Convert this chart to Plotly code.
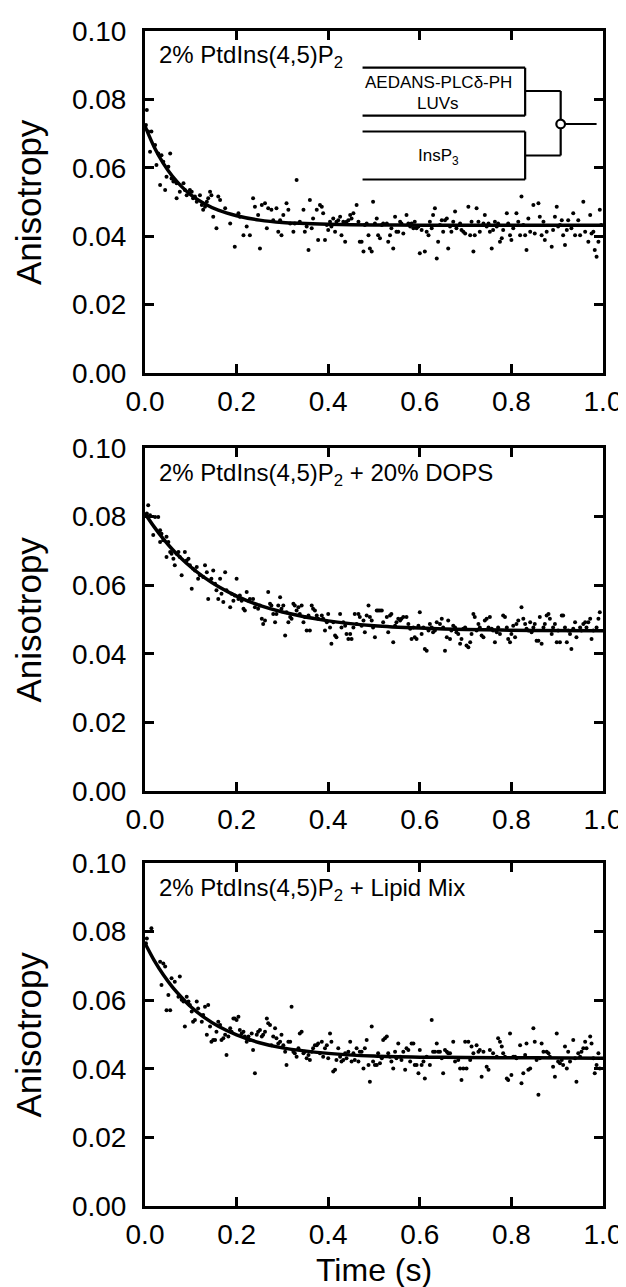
import plotly.graph_objects as go

# ---------------- data ----------------
panel_labels = [
    "2% PtdIns(4,5)P<sub>2</sub>",
    "2% PtdIns(4,5)P<sub>2</sub> + 20% DOPS",
    "2% PtdIns(4,5)P<sub>2</sub> + Lipid Mix",
]
x_tick_vals = [0.0, 0.2, 0.4, 0.6, 0.8, 1.0]
y_tick_vals = [0.00, 0.02, 0.04, 0.06, 0.08, 0.10]

# Panel 1 : 2% PtdIns(4,5)P2  (time s, anisotropy)
panel1_points = [
    (0.004, 0.0769), (0.002, 0.0725), (0.007, 0.0706), (0.014, 0.0706), (0.011, 0.0647), (0.022, 0.0667),
    (0.025, 0.0608), (0.029, 0.0642), (0.036, 0.0637), (0.040, 0.0618), (0.055, 0.0642), (0.051, 0.0603),
    (0.047, 0.0574), (0.033, 0.0550), (0.044, 0.0535), (0.058, 0.0569), (0.062, 0.0560), (0.069, 0.0555),
    (0.069, 0.0511), (0.076, 0.0530), (0.084, 0.0555), (0.087, 0.0535), (0.091, 0.0520), (0.098, 0.0535),
    (0.102, 0.0530), (0.105, 0.0511), (0.109, 0.0516), (0.113, 0.0501), (0.120, 0.0520), (0.124, 0.0491),
    (0.131, 0.0486), (0.127, 0.0477), (0.135, 0.0501), (0.138, 0.0511), (0.142, 0.0530), (0.145, 0.0520),
    (0.149, 0.0457), (0.156, 0.0423), (0.160, 0.0516), (0.164, 0.0506), (0.175, 0.0482), (0.186, 0.0437),
    (0.196, 0.0369), (0.204, 0.0467), (0.207, 0.0457), (0.215, 0.0403), (0.222, 0.0428), (0.229, 0.0403),
    (0.236, 0.0511), (0.240, 0.0486), (0.247, 0.0462), (0.251, 0.0364), (0.255, 0.0491), (0.262, 0.0496),
    (0.266, 0.0423), (0.269, 0.0482), (0.276, 0.0477), (0.280, 0.0447), (0.287, 0.0482), (0.291, 0.0413),
    (0.295, 0.0447), (0.298, 0.0403), (0.302, 0.0462), (0.309, 0.0496), (0.313, 0.0477), (0.317, 0.0437),
    (0.324, 0.0413), (0.327, 0.0437), (0.331, 0.0564), (0.338, 0.0442), (0.346, 0.0477), (0.349, 0.0413),
    (0.353, 0.0428), (0.357, 0.0360), (0.360, 0.0506), (0.364, 0.0423), (0.367, 0.0452), (0.375, 0.0477),
    (0.378, 0.0389), (0.382, 0.0491), (0.386, 0.0486), (0.389, 0.0467), (0.393, 0.0389), (0.397, 0.0433),
    (0.400, 0.0418), (0.404, 0.0442), (0.407, 0.0428), (0.411, 0.0452), (0.415, 0.0413), (0.418, 0.0442),
    (0.422, 0.0447), (0.426, 0.0457), (0.429, 0.0403), (0.433, 0.0442), (0.437, 0.0384), (0.440, 0.0442),
    (0.444, 0.0447), (0.448, 0.0462), (0.451, 0.0452), (0.455, 0.0467), (0.462, 0.0491), (0.466, 0.0442),
    (0.469, 0.0384), (0.473, 0.0384), (0.477, 0.0355), (0.480, 0.0433), (0.484, 0.0437), (0.488, 0.0403),
    (0.491, 0.0364), (0.495, 0.0355), (0.498, 0.0501), (0.502, 0.0437), (0.506, 0.0452), (0.509, 0.0403),
    (0.513, 0.0394), (0.517, 0.0433), (0.520, 0.0437), (0.528, 0.0437), (0.531, 0.0384), (0.535, 0.0403),
    (0.538, 0.0423), (0.542, 0.0364), (0.546, 0.0457), (0.549, 0.0413), (0.553, 0.0413), (0.557, 0.0442),
    (0.560, 0.0437), (0.564, 0.0408), (0.571, 0.0462), (0.575, 0.0437), (0.579, 0.0428), (0.582, 0.0437),
    (0.586, 0.0423), (0.589, 0.0442), (0.593, 0.0423), (0.597, 0.0428), (0.600, 0.0350), (0.604, 0.0418),
    (0.611, 0.0355), (0.615, 0.0413), (0.619, 0.0403), (0.622, 0.0442), (0.626, 0.0423), (0.629, 0.0462),
    (0.633, 0.0482), (0.637, 0.0335), (0.640, 0.0384), (0.644, 0.0433), (0.648, 0.0447), (0.651, 0.0413),
    (0.655, 0.0447), (0.659, 0.0452), (0.662, 0.0364), (0.666, 0.0428), (0.669, 0.0413), (0.673, 0.0442),
    (0.677, 0.0472), (0.680, 0.0423), (0.688, 0.0437), (0.691, 0.0418), (0.695, 0.0413), (0.699, 0.0408),
    (0.706, 0.0486), (0.710, 0.0403), (0.713, 0.0442), (0.717, 0.0355), (0.720, 0.0403), (0.724, 0.0482),
    (0.728, 0.0442), (0.731, 0.0413), (0.739, 0.0437), (0.742, 0.0462), (0.746, 0.0428), (0.750, 0.0437),
    (0.753, 0.0413), (0.757, 0.0364), (0.760, 0.0418), (0.764, 0.0442), (0.768, 0.0428), (0.771, 0.0437),
    (0.775, 0.0384), (0.779, 0.0394), (0.782, 0.0418), (0.790, 0.0467), (0.793, 0.0437), (0.797, 0.0403),
    (0.800, 0.0389), (0.804, 0.0423), (0.811, 0.0467), (0.815, 0.0442), (0.819, 0.0403), (0.822, 0.0516),
    (0.826, 0.0433), (0.830, 0.0403), (0.833, 0.0360), (0.837, 0.0452), (0.841, 0.0413), (0.848, 0.0491),
    (0.851, 0.0408), (0.859, 0.0496), (0.862, 0.0457), (0.866, 0.0403), (0.870, 0.0442), (0.873, 0.0389),
    (0.877, 0.0413), (0.888, 0.0369), (0.891, 0.0418), (0.895, 0.0457), (0.899, 0.0486), (0.902, 0.0428),
    (0.906, 0.0433), (0.910, 0.0447), (0.913, 0.0403), (0.917, 0.0374), (0.921, 0.0418), (0.924, 0.0447),
    (0.931, 0.0423), (0.935, 0.0467), (0.939, 0.0403), (0.946, 0.0447), (0.950, 0.0403), (0.957, 0.0501),
    (0.961, 0.0413), (0.968, 0.0384), (0.972, 0.0462), (0.975, 0.0408), (0.979, 0.0413), (0.982, 0.0360),
    (0.986, 0.0340), (0.990, 0.0384), (0.993, 0.0477), (0.996, 0.0433),
]

# Panel 2 : 2% PtdIns(4,5)P2 + 20% DOPS
panel2_points = [
    (0.007, 0.0833), (0.004, 0.0809), (0.011, 0.0804), (0.022, 0.0799), (0.029, 0.0799), (0.018, 0.0746),
    (0.033, 0.0760), (0.036, 0.0750), (0.040, 0.0731), (0.033, 0.0726), (0.047, 0.0741), (0.051, 0.0726),
    (0.055, 0.0697), (0.058, 0.0692), (0.047, 0.0682), (0.062, 0.0677), (0.065, 0.0658), (0.069, 0.0692),
    (0.073, 0.0697), (0.076, 0.0682), (0.080, 0.0629), (0.087, 0.0697), (0.091, 0.0672), (0.095, 0.0677),
    (0.098, 0.0658), (0.102, 0.0590), (0.105, 0.0648), (0.109, 0.0643), (0.113, 0.0653), (0.116, 0.0619),
    (0.120, 0.0629), (0.127, 0.0624), (0.131, 0.0658), (0.135, 0.0638), (0.138, 0.0560), (0.142, 0.0614),
    (0.145, 0.0619), (0.149, 0.0643), (0.153, 0.0604), (0.156, 0.0585), (0.160, 0.0560), (0.164, 0.0619),
    (0.167, 0.0575), (0.171, 0.0551), (0.175, 0.0638), (0.178, 0.0585), (0.186, 0.0536), (0.189, 0.0575),
    (0.193, 0.0555), (0.196, 0.0570), (0.200, 0.0619), (0.204, 0.0560), (0.207, 0.0570), (0.211, 0.0555),
    (0.215, 0.0531), (0.218, 0.0526), (0.222, 0.0580), (0.226, 0.0555), (0.229, 0.0560), (0.236, 0.0560),
    (0.240, 0.0536), (0.247, 0.0531), (0.251, 0.0541), (0.255, 0.0502), (0.258, 0.0487), (0.262, 0.0497),
    (0.269, 0.0580), (0.273, 0.0546), (0.276, 0.0541), (0.280, 0.0516), (0.284, 0.0492), (0.287, 0.0516),
    (0.291, 0.0541), (0.295, 0.0565), (0.298, 0.0531), (0.302, 0.0541), (0.306, 0.0453), (0.309, 0.0521),
    (0.313, 0.0492), (0.317, 0.0507), (0.320, 0.0502), (0.324, 0.0546), (0.327, 0.0541), (0.331, 0.0526),
    (0.335, 0.0536), (0.338, 0.0516), (0.342, 0.0541), (0.346, 0.0492), (0.349, 0.0507), (0.353, 0.0468),
    (0.357, 0.0512), (0.360, 0.0468), (0.364, 0.0541), (0.367, 0.0531), (0.371, 0.0526), (0.375, 0.0512),
    (0.378, 0.0502), (0.386, 0.0512), (0.389, 0.0502), (0.393, 0.0468), (0.397, 0.0492), (0.400, 0.0516),
    (0.404, 0.0477), (0.407, 0.0429), (0.411, 0.0492), (0.415, 0.0453), (0.418, 0.0448), (0.426, 0.0516),
    (0.429, 0.0477), (0.433, 0.0492), (0.437, 0.0482), (0.440, 0.0458), (0.444, 0.0443), (0.448, 0.0458),
    (0.451, 0.0443), (0.455, 0.0477), (0.458, 0.0516), (0.462, 0.0487), (0.466, 0.0516), (0.469, 0.0507),
    (0.473, 0.0482), (0.477, 0.0497), (0.480, 0.0463), (0.484, 0.0512), (0.488, 0.0541), (0.491, 0.0507),
    (0.495, 0.0497), (0.498, 0.0477), (0.502, 0.0448), (0.506, 0.0526), (0.509, 0.0526), (0.513, 0.0526),
    (0.517, 0.0526), (0.520, 0.0492), (0.528, 0.0507), (0.531, 0.0463), (0.535, 0.0512), (0.538, 0.0516),
    (0.542, 0.0434), (0.546, 0.0482), (0.549, 0.0492), (0.553, 0.0502), (0.557, 0.0497), (0.560, 0.0502),
    (0.564, 0.0507), (0.571, 0.0507), (0.575, 0.0487), (0.579, 0.0473), (0.582, 0.0443), (0.586, 0.0477),
    (0.589, 0.0448), (0.593, 0.0443), (0.597, 0.0482), (0.600, 0.0521), (0.604, 0.0458), (0.608, 0.0477),
    (0.611, 0.0414), (0.615, 0.0409), (0.619, 0.0468), (0.622, 0.0487), (0.626, 0.0477), (0.629, 0.0463),
    (0.633, 0.0468), (0.637, 0.0492), (0.644, 0.0487), (0.648, 0.0502), (0.651, 0.0477), (0.655, 0.0409),
    (0.659, 0.0448), (0.662, 0.0497), (0.666, 0.0443), (0.669, 0.0468), (0.673, 0.0482), (0.677, 0.0477),
    (0.680, 0.0463), (0.684, 0.0458), (0.688, 0.0429), (0.691, 0.0443), (0.695, 0.0473), (0.699, 0.0477),
    (0.702, 0.0424), (0.706, 0.0419), (0.710, 0.0434), (0.713, 0.0458), (0.717, 0.0516), (0.720, 0.0507),
    (0.724, 0.0468), (0.728, 0.0487), (0.731, 0.0477), (0.735, 0.0453), (0.739, 0.0448), (0.742, 0.0497),
    (0.746, 0.0502), (0.750, 0.0477), (0.753, 0.0507), (0.757, 0.0473), (0.760, 0.0468), (0.764, 0.0434),
    (0.768, 0.0463), (0.771, 0.0477), (0.775, 0.0458), (0.782, 0.0512), (0.786, 0.0507), (0.790, 0.0477),
    (0.793, 0.0443), (0.797, 0.0434), (0.800, 0.0458), (0.804, 0.0482), (0.808, 0.0448), (0.811, 0.0487),
    (0.815, 0.0497), (0.822, 0.0536), (0.826, 0.0502), (0.830, 0.0487), (0.833, 0.0473), (0.837, 0.0468),
    (0.841, 0.0492), (0.844, 0.0463), (0.848, 0.0477), (0.851, 0.0487), (0.855, 0.0438), (0.859, 0.0438),
    (0.862, 0.0507), (0.866, 0.0429), (0.870, 0.0477), (0.873, 0.0487), (0.877, 0.0512), (0.881, 0.0516),
    (0.884, 0.0502), (0.888, 0.0458), (0.891, 0.0477), (0.895, 0.0487), (0.899, 0.0434), (0.902, 0.0468),
    (0.906, 0.0434), (0.910, 0.0512), (0.913, 0.0512), (0.917, 0.0477), (0.921, 0.0434), (0.924, 0.0468),
    (0.928, 0.0458), (0.931, 0.0414), (0.935, 0.0473), (0.939, 0.0492), (0.942, 0.0448), (0.950, 0.0477),
    (0.953, 0.0468), (0.957, 0.0487), (0.961, 0.0492), (0.964, 0.0477), (0.968, 0.0492), (0.972, 0.0502),
    (0.975, 0.0443), (0.979, 0.0468), (0.986, 0.0477), (0.990, 0.0502), (0.993, 0.0521),
]

# Panel 3 : 2% PtdIns(4,5)P2 + Lipid Mix
panel3_points = [
    (0.004, 0.0780), (0.014, 0.0810), (0.002, 0.0766), (0.033, 0.0712), (0.040, 0.0707), (0.044, 0.0698),
    (0.036, 0.0644), (0.051, 0.0615), (0.055, 0.0571), (0.047, 0.0571), (0.058, 0.0664), (0.065, 0.0654),
    (0.076, 0.0669), (0.073, 0.0610), (0.080, 0.0601), (0.084, 0.0596), (0.091, 0.0610), (0.087, 0.0523),
    (0.095, 0.0596), (0.098, 0.0586), (0.102, 0.0567), (0.105, 0.0537), (0.109, 0.0542), (0.113, 0.0596),
    (0.116, 0.0576), (0.124, 0.0537), (0.127, 0.0557), (0.131, 0.0581), (0.138, 0.0586), (0.135, 0.0499),
    (0.142, 0.0523), (0.145, 0.0479), (0.149, 0.0484), (0.153, 0.0484), (0.156, 0.0508), (0.160, 0.0537),
    (0.164, 0.0528), (0.167, 0.0484), (0.171, 0.0489), (0.175, 0.0499), (0.178, 0.0440), (0.182, 0.0494),
    (0.186, 0.0518), (0.189, 0.0508), (0.193, 0.0547), (0.196, 0.0547), (0.200, 0.0542), (0.204, 0.0552),
    (0.207, 0.0513), (0.211, 0.0503), (0.215, 0.0508), (0.218, 0.0494), (0.222, 0.0479), (0.226, 0.0494),
    (0.229, 0.0484), (0.233, 0.0503), (0.236, 0.0455), (0.240, 0.0387), (0.244, 0.0499), (0.247, 0.0508),
    (0.251, 0.0513), (0.255, 0.0494), (0.258, 0.0499), (0.262, 0.0508), (0.266, 0.0547), (0.269, 0.0533),
    (0.273, 0.0528), (0.276, 0.0469), (0.280, 0.0494), (0.284, 0.0518), (0.287, 0.0489), (0.291, 0.0474),
    (0.295, 0.0479), (0.298, 0.0499), (0.302, 0.0469), (0.306, 0.0450), (0.309, 0.0411), (0.313, 0.0479),
    (0.317, 0.0479), (0.320, 0.0581), (0.324, 0.0450), (0.327, 0.0445), (0.331, 0.0435), (0.335, 0.0460),
    (0.338, 0.0503), (0.342, 0.0508), (0.346, 0.0445), (0.349, 0.0450), (0.353, 0.0431), (0.357, 0.0440),
    (0.360, 0.0426), (0.364, 0.0450), (0.367, 0.0460), (0.371, 0.0469), (0.375, 0.0469), (0.378, 0.0474),
    (0.382, 0.0445), (0.386, 0.0479), (0.389, 0.0435), (0.393, 0.0460), (0.397, 0.0469), (0.400, 0.0431),
    (0.404, 0.0503), (0.407, 0.0479), (0.411, 0.0392), (0.415, 0.0397), (0.418, 0.0426), (0.422, 0.0460),
    (0.426, 0.0435), (0.429, 0.0421), (0.433, 0.0426), (0.437, 0.0445), (0.440, 0.0431), (0.444, 0.0450),
    (0.448, 0.0479), (0.451, 0.0421), (0.455, 0.0445), (0.458, 0.0426), (0.462, 0.0460), (0.466, 0.0421),
    (0.469, 0.0450), (0.473, 0.0450), (0.477, 0.0401), (0.480, 0.0460), (0.484, 0.0484), (0.488, 0.0411),
    (0.491, 0.0362), (0.495, 0.0523), (0.498, 0.0421), (0.502, 0.0411), (0.506, 0.0411), (0.509, 0.0445),
    (0.513, 0.0416), (0.517, 0.0431), (0.520, 0.0484), (0.524, 0.0489), (0.528, 0.0494), (0.531, 0.0445),
    (0.535, 0.0435), (0.538, 0.0421), (0.542, 0.0401), (0.546, 0.0450), (0.549, 0.0431), (0.553, 0.0474),
    (0.557, 0.0435), (0.560, 0.0426), (0.564, 0.0450), (0.568, 0.0397), (0.571, 0.0460), (0.575, 0.0455),
    (0.579, 0.0421), (0.582, 0.0474), (0.586, 0.0474), (0.589, 0.0411), (0.593, 0.0411), (0.597, 0.0387),
    (0.600, 0.0455), (0.604, 0.0411), (0.608, 0.0421), (0.611, 0.0372), (0.615, 0.0435), (0.622, 0.0411),
    (0.626, 0.0542), (0.629, 0.0450), (0.633, 0.0450), (0.637, 0.0474), (0.640, 0.0450), (0.644, 0.0450),
    (0.648, 0.0431), (0.651, 0.0387), (0.655, 0.0455), (0.659, 0.0450), (0.662, 0.0445), (0.666, 0.0445),
    (0.673, 0.0479), (0.677, 0.0421), (0.684, 0.0426), (0.688, 0.0401), (0.691, 0.0367), (0.695, 0.0401),
    (0.699, 0.0479), (0.702, 0.0401), (0.706, 0.0479), (0.710, 0.0426), (0.713, 0.0465), (0.717, 0.0445),
    (0.724, 0.0469), (0.728, 0.0450), (0.731, 0.0455), (0.735, 0.0377), (0.739, 0.0450), (0.746, 0.0406),
    (0.750, 0.0397), (0.753, 0.0455), (0.760, 0.0445), (0.768, 0.0435), (0.771, 0.0489), (0.775, 0.0479),
    (0.779, 0.0465), (0.782, 0.0445), (0.786, 0.0435), (0.790, 0.0372), (0.793, 0.0367), (0.797, 0.0503),
    (0.800, 0.0382), (0.804, 0.0435), (0.808, 0.0435), (0.811, 0.0431), (0.819, 0.0469), (0.822, 0.0358),
    (0.826, 0.0387), (0.830, 0.0440), (0.833, 0.0474), (0.837, 0.0397), (0.841, 0.0401), (0.848, 0.0518),
    (0.851, 0.0479), (0.855, 0.0426), (0.859, 0.0324), (0.862, 0.0431), (0.866, 0.0474), (0.870, 0.0450),
    (0.877, 0.0450), (0.881, 0.0445), (0.884, 0.0435), (0.891, 0.0406), (0.895, 0.0377), (0.899, 0.0503),
    (0.902, 0.0421), (0.906, 0.0416), (0.910, 0.0426), (0.913, 0.0411), (0.917, 0.0465), (0.921, 0.0401),
    (0.924, 0.0450), (0.928, 0.0421), (0.935, 0.0484), (0.939, 0.0431), (0.942, 0.0362), (0.946, 0.0445),
    (0.950, 0.0435), (0.953, 0.0450), (0.957, 0.0460), (0.961, 0.0479), (0.964, 0.0460), (0.972, 0.0494),
    (0.975, 0.0474), (0.979, 0.0431), (0.982, 0.0387), (0.986, 0.0411), (0.990, 0.0445), (0.993, 0.0401),
]

# fitted curves
fit_time = [0.0, 0.02, 0.04, 0.06, 0.08, 0.10, 0.13, 0.16, 0.20, 0.25, 0.30, 0.40, 0.50, 0.60, 0.70, 0.85, 1.0]
fit1 = [0.0722, 0.0661, 0.0613, 0.0575, 0.0545, 0.0521, 0.0495, 0.0476, 0.0460, 0.0447, 0.0440, 0.0435,
        0.0433, 0.0432, 0.0432, 0.0432, 0.0432]
fit2 = [0.0809, 0.0770, 0.0735, 0.0704, 0.0677, 0.0653, 0.0622, 0.0596, 0.0568, 0.0541, 0.0522, 0.0496,
        0.0482, 0.0475, 0.0471, 0.0468, 0.0467]
fit3 = [0.0766, 0.0716, 0.0674, 0.0638, 0.0608, 0.0581, 0.0549, 0.0524, 0.0499, 0.0476, 0.0461, 0.0445,
        0.0437, 0.0434, 0.0433, 0.0432, 0.0431]

# inset scheme labels
scheme_labels = ["AEDANS-PLCδ-PH", "LUVs", "InsP<sub>3</sub>"]

# ---------------- figure ----------------
# the html page has an 8 px body margin, so the figure is 8 px smaller than the window
W, H = 618, 1279
M_L, M_R, M_T, M_B = 137, 23, 23, 81
plot_h = H - M_T - M_B            # 1175
plot_w = W - M_L - M_R            # 458
PAGE_LEFT, PAGE_TOP = 145, 31     # page pixel of plot-area left / top
panel_px = [(31, 373), (448, 791), (863, 1206)]  # page rows of each plot area (top, bottom)


def dom(top, bot):
    return [1 - (bot - PAGE_TOP) / plot_h, 1 - (top - PAGE_TOP) / plot_h]


FONT = "Liberation Sans, Arial, Helvetica, sans-serif"
fig = go.Figure()

all_points = [panel1_points, panel2_points, panel3_points]
all_fits = [fit1, fit2, fit3]
layout = {}
annotations = []
shapes = []

for i in range(3):
    sfx = "" if i == 0 else str(i + 1)
    xs = [p[0] for p in all_points[i]]
    ys = [p[1] for p in all_points[i]]
    fig.add_trace(go.Scatter(
        x=xs, y=ys, mode="markers", xaxis="x" + sfx, yaxis="y" + sfx,
        marker=dict(color="black", size=4, line=dict(width=0)), showlegend=False, cliponaxis=False))
    fig.add_trace(go.Scatter(
        x=fit_time, y=all_fits[i], mode="lines", line=dict(color="black", width=3.5, shape="spline", smoothing=0.8),
        xaxis="x" + sfx, yaxis="y" + sfx, showlegend=False))
    d = dom(*panel_px[i])
    layout["xaxis" + sfx] = dict(
        domain=[0, 1], range=[0, 1], anchor="y" + sfx, tickvals=x_tick_vals, tickformat=".1f",
        ticks="inside", ticklen=9, tickwidth=3, tickcolor="black", showline=True, linewidth=3,
        linecolor="black", mirror="ticks", showgrid=False, zeroline=False,
        tickfont=dict(family=FONT, size=28, color="black"), ticklabelstandoff=1)
    layout["yaxis" + sfx] = dict(
        domain=d, range=[0, 0.1], anchor="x" + sfx, tickvals=y_tick_vals, tickformat=".2f",
        ticks="inside", ticklen=9, tickwidth=3, tickcolor="black", showline=True, linewidth=3,
        linecolor="black", mirror="ticks", showgrid=False, zeroline=False,
        tickfont=dict(family=FONT, size=28, color="black"), ticklabelstandoff=10)
    # y title
    annotations.append(dict(
        text="Anisotropy", xref="paper", yref="paper", x=(28 - PAGE_LEFT) / plot_w, y=(d[0] + d[1]) / 2,
        textangle=-90, showarrow=False, xanchor="center", yanchor="middle",
        font=dict(family=FONT, size=35, color="black")))
    # panel label
    annotations.append(dict(
        text=panel_labels[i], xref="x" + sfx, yref="y" + sfx, x=0.026, y=0.0924,
        showarrow=False, xanchor="left", yanchor="middle",
        font=dict(family=FONT, size=24, color="black")))

annotations.append(dict(
    text="Time (s)", xref="paper", yref="paper", x=0.5, y=(1206 - 1270) / plot_h,
    showarrow=False, xanchor="center", yanchor="middle", font=dict(family=FONT, size=32, color="black")))

# inset scheme in panel 1
line = dict(color="black", width=2.2)
bx0, bx1, jx, ex = 0.475, 0.830, 0.9076, 0.986
b1t, b1b, b1m = 0.08927, 0.07523, 0.08246
b2t, b2b, b2m = 0.07061, 0.05658, 0.06360
cy = 0.07281
for (x0, y0, x1, y1) in [
    (bx0, b1t, bx1, b1t), (bx0, b1b, bx1, b1b), (bx1, b1t, bx1, b1b),
    (bx0, b2t, bx1, b2t), (bx0, b2b, bx1, b2b), (bx1, b2t, bx1, b2b),
    (bx1, b1m, jx, b1m), (bx1, b2m, jx, b2m), (jx, b1m, jx, b2m), (jx, cy, ex, cy),
]:
    shapes.append(dict(type="line", xref="x", yref="y", x0=x0, y0=y0, x1=x1, y1=y1, line=line, layer="above"))
shapes.append(dict(type="circle", xref="x", yref="y", x0=jx - 0.0095, x1=jx + 0.0095,
                   y0=cy - 0.00125, y1=cy + 0.00125, line=dict(color="black", width=2.2),
                   fillcolor="white", layer="above"))
annotations.append(dict(text=scheme_labels[0], xref="x", yref="y", x=0.64, y=0.0848, showarrow=False,
                        font=dict(family=FONT, size=17, color="black"), xanchor="center", yanchor="middle"))
annotations.append(dict(text=scheme_labels[1], xref="x", yref="y", x=0.64, y=0.0789, showarrow=False,
                        font=dict(family=FONT, size=17, color="black"), xanchor="center", yanchor="middle"))
annotations.append(dict(text=scheme_labels[2], xref="x", yref="y", x=0.64, y=0.0632, showarrow=False,
                        font=dict(family=FONT, size=17, color="black"), xanchor="center", yanchor="middle"))

fig.update_layout(
    width=W, height=H, margin=dict(l=M_L, r=M_R, t=M_T, b=M_B, autoexpand=False),
    paper_bgcolor="white", plot_bgcolor="white", showlegend=False,
    annotations=annotations, shapes=shapes, **layout)

fig.write_html("out.html")
